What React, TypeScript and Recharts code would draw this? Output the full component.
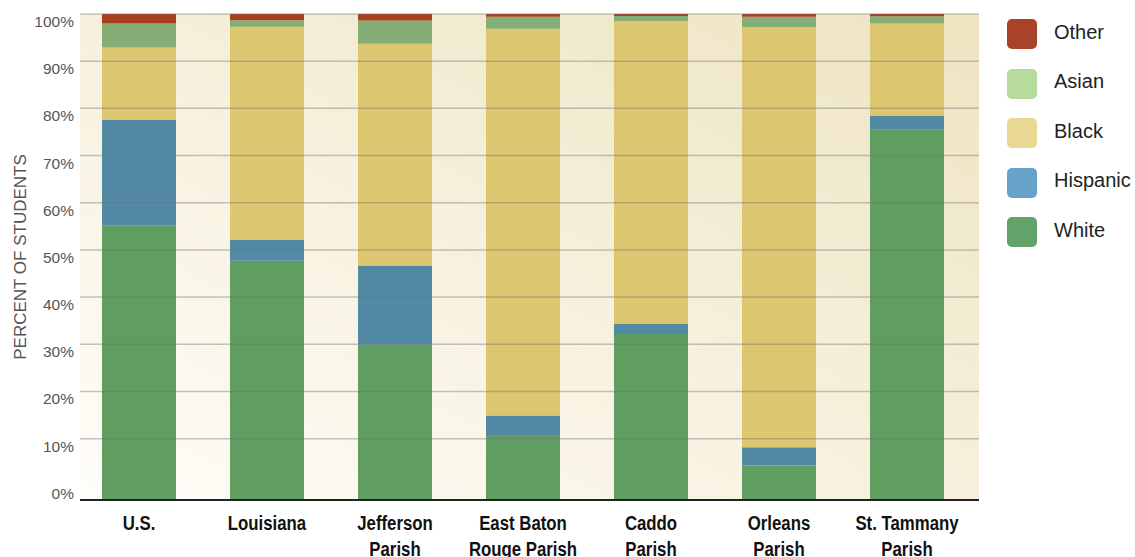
import React from "react";
import { BarChart, Bar, XAxis, YAxis, CartesianGrid, ReferenceLine } from "recharts";

const CATEGORIES = ["U.S.", "Louisiana", "Jefferson Parish", "East Baton Rouge Parish", "Caddo Parish", "Orleans Parish", "St. Tammany Parish"];
const LABEL_LINES: Record<string, string[]> = {
  "U.S.": ["U.S."],
  "Louisiana": ["Louisiana"],
  "Jefferson Parish": ["Jefferson", "Parish"],
  "East Baton Rouge Parish": ["East Baton", "Rouge Parish"],
  "Caddo Parish": ["Caddo", "Parish"],
  "Orleans Parish": ["Orleans", "Parish"],
  "St. Tammany Parish": ["St. Tammany", "Parish"],
};

const WHITE = [55.2, 47.7, 29.9, 10.8, 32.2, 4.3, 75.6];
const HISPANIC = [22.4, 4.4, 16.8, 4.1, 2.1, 3.9, 2.8];
const BLACK = [15.3, 45.2, 47.0, 82.0, 64.2, 89.0, 19.6];
const ASIAN = [5.1, 1.4, 4.9, 2.5, 1.1, 2.2, 1.5];
const OTHER = [2.0, 1.3, 1.4, 0.6, 0.4, 0.6, 0.5];

const Y_TICKS = [0, 10, 20, 30, 40, 50, 60, 70, 80, 90, 100];
const GRID_TICKS = [10, 20, 30, 40, 50, 60, 70, 80, 90, 100];
const FLOOR = -3;

// stacking order bottom -> top
const SERIES = [
  { key: "White", bar: "#5f9e60", legend: "#62a36a" },
  { key: "Hispanic", bar: "#528aa6", legend: "#67a2c8" },
  { key: "Black", bar: "#dcc66f", legend: "#e8d894" },
  { key: "Asian", bar: "#84ae75", legend: "#b7db9c" },
  { key: "Other", bar: "#a8401f", legend: "#a8432a" },
];
const LEGEND_ORDER = ["Other", "Asian", "Black", "Hispanic", "White"];

const data = CATEGORIES.map((name, i) => ({
  name,
  White: WHITE[i],
  Hispanic: HISPANIC[i],
  Black: BLACK[i],
  Asian: ASIAN[i],
  Other: OTHER[i],
}));

// white segment runs down to the floor of the plot, like the original
const WhiteShape = (props: any) => {
  const { x, y, width, height, fill, payload, background } = props;
  let h = height;
  if (background && background.height) {
    h = background.y + background.height - y;
  } else if (payload && payload.White) {
    h = height + (height * -FLOOR) / payload.White;
  }
  return <rect x={x} y={y} width={width} height={h} fill={fill} />;
};

// condensed bold labels: no narrow face installed, so squeeze horizontally
const XTick = (props: any) => {
  const { x, y, payload } = props;
  const lines = LABEL_LINES[payload.value] || [payload.value];
  return (
    <g transform={`translate(${x} ${y}) scale(0.8 1)`}>
      <text x={0} y={0} textAnchor="middle" fill="#111" fontFamily="'Liberation Sans', Arial, sans-serif" fontWeight="bold" fontSize={21}>
        {lines.map((l, i) => (
          <tspan key={i} x={0} dy={i === 0 ? 28 : 26}>{l}</tspan>
        ))}
      </text>
    </g>
  );
};

const YTick = (props: any) => {
  const { x, y, payload } = props;
  return (
    <text x={x} y={y} dy={13} textAnchor="end" fill="#555" fontFamily="'Liberation Sans', sans-serif" fontSize={15.5}>
      {payload.value}%
    </text>
  );
};

const YLabel = (props: any) => {
  const vb = props.viewBox || { x: 0, y: 14, width: 80, height: 486 };
  const cx = 20;
  const cy = vb.y + vb.height / 2;
  return (
    <text x={cx} y={cy} transform={`rotate(-90 ${cx} ${cy})`} textAnchor="middle" dominantBaseline="central" fill="#555" fontFamily="'Liberation Sans', sans-serif" fontSize={17}>
      PERCENT OF STUDENTS
    </text>
  );
};

export default function App() {
  return (
    <div style={{ position: "absolute", left: 0, top: 0, width: 1135, height: 557, background: "#fff" }}>
      <BarChart width={1135} height={557} data={data} margin={{ top: 14, right: 156, bottom: 0, left: 0 }} barSize={74}>
        <defs>
          <linearGradient id="bgGrad" x1="0" y1="1" x2="1" y2="0">
            <stop offset="0%" stopColor="#fffdf9" />
            <stop offset="50%" stopColor="#f6f0dc" />
            <stop offset="100%" stopColor="#eee4c1" />
          </linearGradient>
        </defs>
        <CartesianGrid horizontal={false} vertical={false} fill="url(#bgGrad)" fillOpacity={1} />
        <XAxis
          dataKey="name"
          interval={0}
          height={57}
          tickLine={false}
          tickSize={0}
          tick={<XTick />}
          axisLine={{ stroke: "#222", strokeWidth: 2 }}
          padding={{ left: -5, right: 8 }}
        />
        <YAxis
          type="number"
          width={80}
          domain={[FLOOR, 100]}
          ticks={Y_TICKS}
          interval={0}
          axisLine={false}
          tickLine={false}
          tickSize={0}
          tickMargin={6}
          tick={<YTick />}
          label={<YLabel />}
        />
        {SERIES.map((s) => (
          <Bar
            key={s.key}
            dataKey={s.key}
            stackId="a"
            fill={s.bar}
            isAnimationActive={false}
            shape={s.key === "White" ? <WhiteShape /> : undefined}
          />
        ))}
        {GRID_TICKS.map((t) => (
          <ReferenceLine key={t} y={t} stroke="#6e6e6e" strokeOpacity={0.4} strokeWidth={1.5} />
        ))}
      </BarChart>
      <div style={{ position: "absolute", left: 1007, top: 19, fontFamily: "'Liberation Sans', sans-serif" }}>
        {LEGEND_ORDER.map((k) => {
          const s = SERIES.find((d) => d.key === k)!;
          return (
            <div key={k} style={{ display: "flex", alignItems: "center", height: 49.5 }}>
              <div style={{ width: 30, height: 30, borderRadius: 5, background: s.legend, marginTop: -19 }} />
              <span style={{ marginLeft: 17, fontSize: 20, color: "#222", marginTop: -23 }}>{k}</span>
            </div>
          );
        })}
      </div>
    </div>
  );
}
